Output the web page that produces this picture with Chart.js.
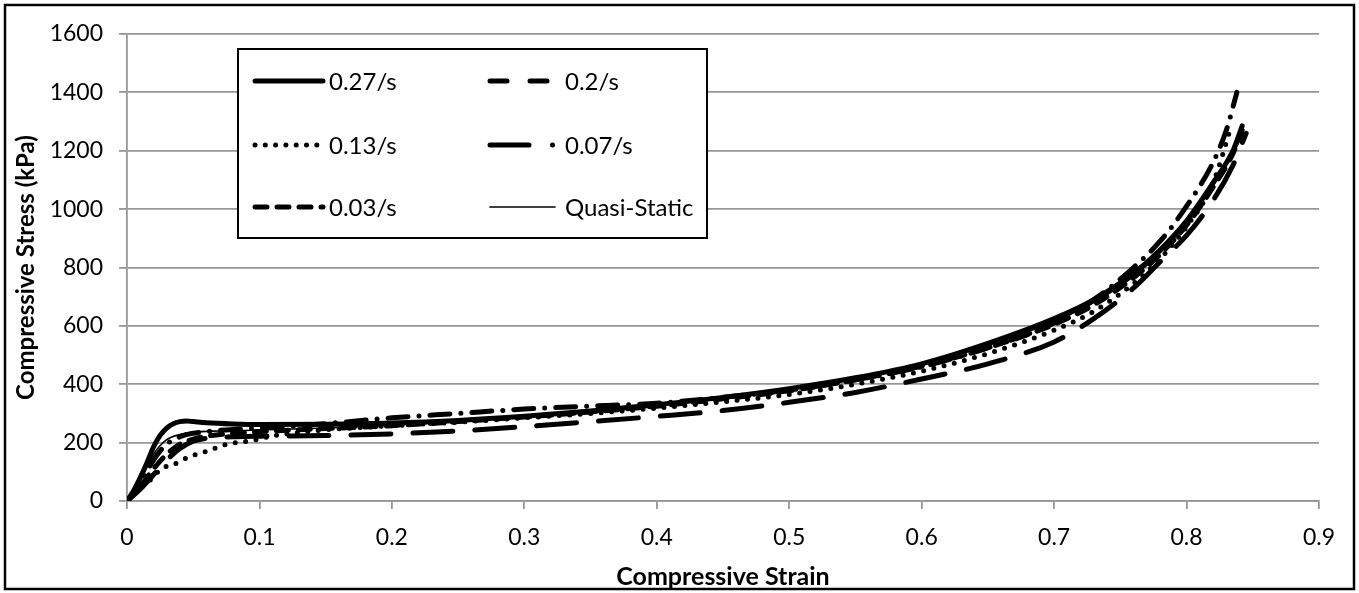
<!DOCTYPE html>
<html>
<head>
<meta charset="utf-8">
<script src="https://cdn.jsdelivr.net/npm/chart.js@4.4.1/dist/chart.umd.min.js"></script>
<style>
  html, body { margin: 0; padding: 0; background: #fff; }
  canvas { display: block; }
</style>
</head>
<body>
<canvas id="myChart" width="1359" height="593"></canvas>
<script>
// strain / stress
let strain027 = [0, 0.005, 0.01, 0.015, 0.02, 0.025, 0.03, 0.035, 0.04, 0.045, 0.05, 0.06, 0.08, 0.1, 0.15, 0.2, 0.25, 0.3, 0.35, 0.4, 0.45, 0.5, 0.55, 0.6, 0.65, 0.7, 0.73, 0.76, 0.78, 0.8, 0.82, 0.835, 0.842];
let stress027 = [0, 35, 80, 130, 185, 225, 250, 265, 272, 274, 272, 268, 264, 262, 263, 267, 276, 290, 308, 330, 355, 385, 422, 470, 540, 625, 690, 780, 860, 960, 1090, 1200, 1285];

let strain02 = [0, 0.01, 0.02, 0.03, 0.04, 0.05, 0.06, 0.08, 0.1, 0.15, 0.2, 0.25, 0.3, 0.35, 0.4, 0.45, 0.5, 0.55, 0.6, 0.65, 0.7, 0.73, 0.76, 0.78, 0.8, 0.82, 0.835, 0.845];
let stress02 = [0, 40, 90, 140, 180, 205, 215, 220, 222, 224, 230, 240, 255, 272, 290, 310, 338, 372, 418, 470, 545, 625, 730, 820, 910, 1030, 1150, 1260];

let strain013 = [0, 0.011, 0.019, 0.026, 0.034, 0.041, 0.05, 0.06, 0.075, 0.094, 0.111, 0.14, 0.17, 0.2, 0.25, 0.3, 0.35, 0.4, 0.45, 0.5, 0.55, 0.6, 0.65, 0.7, 0.73, 0.76, 0.78, 0.8, 0.82, 0.834];
let stress013 = [0, 48, 78, 112, 122, 139, 156, 170, 194, 207, 224, 240, 250, 258, 270, 285, 300, 318, 340, 365, 400, 445, 505, 585, 650, 745, 830, 940, 1090, 1288];

let strain007 = [0, 0.01, 0.02, 0.03, 0.04, 0.05, 0.06, 0.08, 0.1, 0.15, 0.2, 0.25, 0.3, 0.35, 0.4, 0.45, 0.5, 0.55, 0.6, 0.65, 0.7, 0.73, 0.76, 0.78, 0.8, 0.82, 0.83, 0.838];
let stress007 = [0, 60, 140, 195, 220, 232, 238, 245, 250, 265, 285, 300, 315, 325, 335, 355, 380, 415, 460, 525, 610, 690, 800, 890, 1010, 1160, 1270, 1400];

let strain003 = [0, 0.01, 0.02, 0.03, 0.04, 0.05, 0.06, 0.08, 0.1, 0.15, 0.2, 0.25, 0.3, 0.35, 0.4, 0.45, 0.5, 0.55, 0.6, 0.65, 0.7, 0.73, 0.76, 0.78, 0.8, 0.82, 0.835, 0.842];
let stress003 = [0, 50, 110, 160, 195, 212, 222, 232, 238, 248, 258, 272, 288, 305, 325, 350, 378, 415, 462, 525, 605, 672, 765, 845, 945, 1075, 1190, 1270];

let strainQS = [0, 0.01, 0.02, 0.03, 0.04, 0.05, 0.07, 0.1, 0.15, 0.2, 0.25, 0.3, 0.35, 0.4, 0.45, 0.5, 0.55, 0.6, 0.65, 0.7, 0.73, 0.76, 0.78, 0.8, 0.82, 0.835, 0.843];
let stressQS = [0, 70, 160, 210, 228, 236, 240, 243, 250, 260, 272, 288, 306, 328, 354, 383, 422, 470, 533, 615, 680, 770, 850, 950, 1080, 1190, 1260];

let xTicks = [0, 0.1, 0.2, 0.3, 0.4, 0.5, 0.6, 0.7, 0.8, 0.9];
let yTicks = [0, 200, 400, 600, 800, 1000, 1200, 1400, 1600];

let pts = function (xs, ys) {
    return xs.map((x, i) => ({ x: x, y: ys[i] }));
}

let FONT = 'Lato, "Open Sans", sans-serif';
let gris = '#979797';

let serie = function (label, xs, ys, width, dash, legendDash) {
    return {
        label: label,
        data: pts(xs, ys),
        borderColor: '#000',
        backgroundColor: '#000',
        borderWidth: width,
        borderDash: dash,
        borderCapStyle: 'round',
        borderJoinStyle: 'round',
        legendDash: legendDash,
        pointRadius: 0,
        showLine: true,
        cubicInterpolationMode: 'monotone',
        fill: false
    };
}

// frame round the whole figure
let marco = {
    id: 'marco',
    beforeDraw(chart) {
        let c = chart.ctx;
        c.save();
        c.fillStyle = '#fff';
        c.fillRect(0, 0, chart.width, chart.height);
        c.strokeStyle = '#000';
        c.lineWidth = 2.5;
        c.strokeRect(5, 5, chart.width - 10, chart.height - 9);
        c.restore();
    }
};

// legend box inside the plot, 2 columns x 3 rows
let leyenda = {
    id: 'leyenda',
    afterDraw(chart) {
        let c = chart.ctx;
        let a = chart.chartArea;
        let bx = a.left + 111, by = a.top + 15, bw = 469, bh = 189;
        c.save();
        c.fillStyle = '#fff';
        c.fillRect(bx, by, bw, bh);
        c.strokeStyle = '#000';
        c.lineWidth = 2;
        c.strokeRect(bx, by, bw, bh);
        let filas = [32, 96, 158];
        let cols = [{ x0: 17, x1: 85, tx: 91 }, { x0: 252, x1: 317, tx: 327 }];
        chart.data.datasets.forEach((ds, i) => {
            let col = cols[i % 2];
            let y = by + filas[Math.floor(i / 2)];
            c.beginPath();
            c.strokeStyle = '#000';
            c.lineWidth = ds.borderWidth;
            c.lineCap = 'round';
            c.setLineDash(ds.legendDash || []);
            c.moveTo(bx + col.x0, y);
            c.lineTo(bx + col.x1, y);
            c.stroke();
            c.setLineDash([]);
            c.fillStyle = '#000';
            c.font = '24px ' + FONT;
            c.textBaseline = 'middle';
            c.textAlign = 'left';
            c.fillText(ds.label, bx + col.tx, y + 1);
        });
        c.restore();
    }
};

let ctx = document.getElementById('myChart').getContext('2d');

let chart = new Chart(ctx, {
    type: 'scatter',
    data: {
        datasets: [
            serie('0.27/s', strain027, stress027, 5, [], []),
            serie('0.2/s', strain02, stress02, 5, [40, 22], [17, 23]),
            serie('0.13/s', strain013, stress013, 5, [0, 10.5], [0, 10.3]),
            serie('0.07/s', strain007, stress007, 5, [20, 11, 0, 11], [39, 23.5, 0, 23.5]),
            serie('0.03/s', strain003, stress003, 5, [12, 10], [12, 10]),
            serie('Quasi-Static', strainQS, stressQS, 1.6, [], [])
        ]
    },
    options: {
        responsive: false,
        animation: false,
        devicePixelRatio: 1,
        layout: { padding: { left: 6, right: 40, top: 34, bottom: 0 } },
        plugins: {
            legend: { display: false },
            tooltip: { enabled: false }
        },
        scales: {
            x: {
                type: 'linear',
                min: 0,
                max: 0.9,
                afterBuildTicks: (s) => { s.ticks = xTicks.map(v => ({ value: v })); },
                afterFit: (s) => { s.height = 92; },
                ticks: {
                    color: '#000',
                    font: { family: FONT, size: 23 },
                    padding: 15,
                    maxRotation: 0,
                    callback: (v) => String(Number(v.toFixed(1)))
                },
                grid: { drawOnChartArea: false, drawTicks: true, tickLength: 8, color: gris, lineWidth: 1.8 },
                border: { display: true, color: gris, width: 1.8 },
                title: {
                    display: true,
                    text: 'Compressive Strain',
                    color: '#000',
                    font: { family: FONT, size: 25, weight: 'bold' },
                    padding: { top: 0, bottom: 1 }
                }
            },
            y: {
                type: 'linear',
                min: 0,
                max: 1600,
                afterBuildTicks: (s) => { s.ticks = yTicks.map(v => ({ value: v })); },
                afterFit: (s) => { s.width = 121; },
                ticks: {
                    color: '#000',
                    font: { family: FONT, size: 23 },
                    padding: 16,
                    callback: (v) => String(v)
                },
                grid: { drawTicks: true, tickLength: 8, color: gris, lineWidth: 1.8 },
                border: { display: true, color: gris, width: 1.8 },
                title: {
                    display: true,
                    text: 'Compressive Stress (kPa)',
                    color: '#000',
                    font: { family: FONT, size: 24, weight: 'bold' },
                    padding: { top: 6, bottom: 0 }
                }
            }
        }
    },
    plugins: [marco, leyenda]
});
</script>
</body>
</html>
